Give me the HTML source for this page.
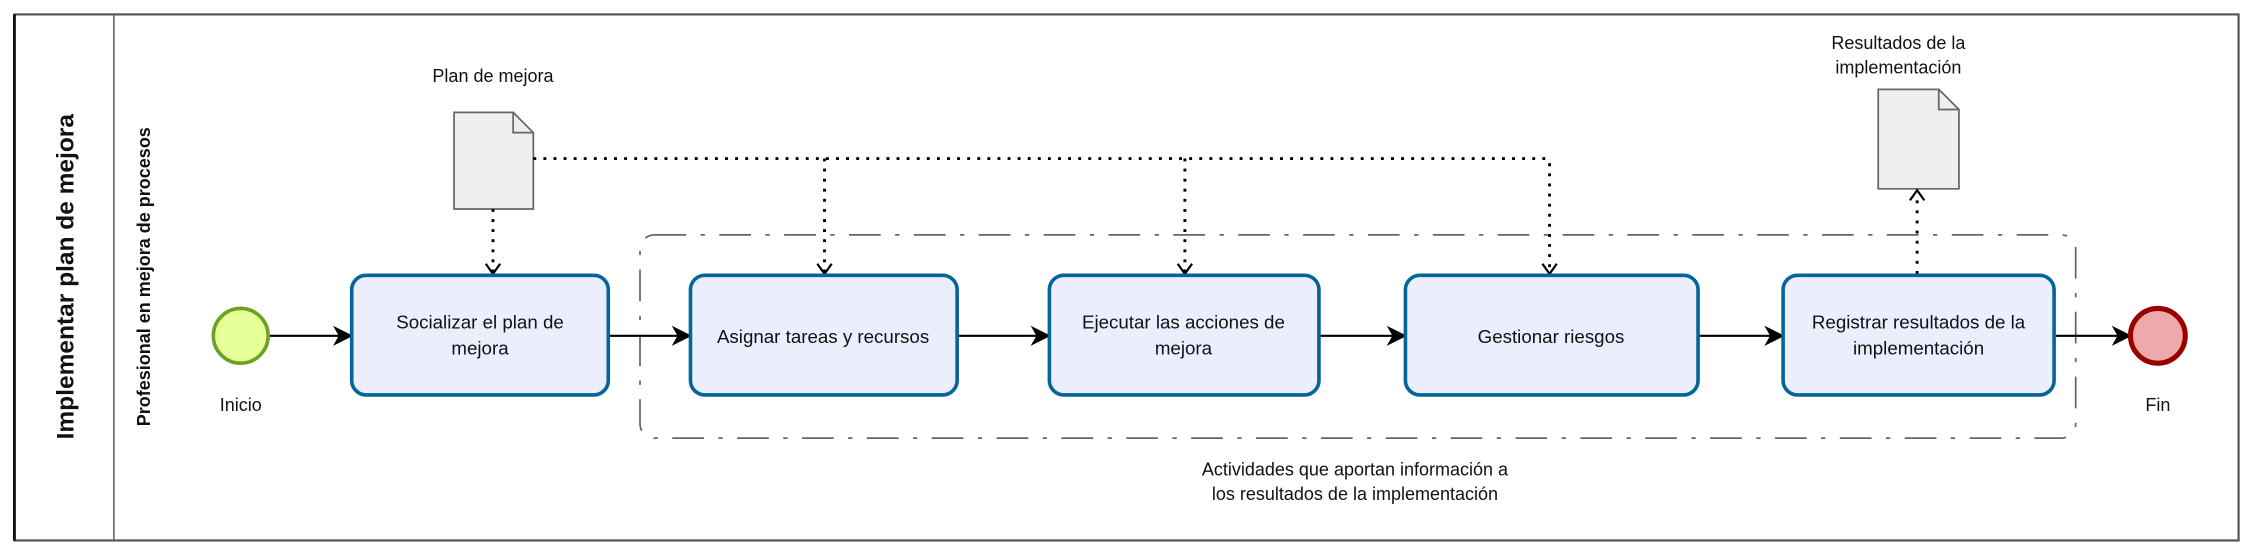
<!DOCTYPE html>
<html><head><meta charset="utf-8"><style>
html,body{margin:0;padding:0;background:#fff;}
svg{display:block;}
text{font-family:"Liberation Sans","DejaVu Sans",sans-serif;fill:#111;}
</style></head><body>
<svg width="2253" height="552" viewBox="0 0 1563 383" preserveAspectRatio="none" xmlns="http://www.w3.org/2000/svg">
<defs>
<marker id="ah" markerWidth="14" markerHeight="14" refX="13" refY="7" orient="auto" markerUnits="userSpaceOnUse"><path d="M0,0 L14,7 L0,14 L4,7 Z" fill="#000"/></marker>
</defs>
<rect x="10" y="10" width="1543" height="365" fill="#fff" stroke="#555" stroke-width="1.5"/>
<line x1="10" y1="10" x2="10" y2="375" stroke="#111" stroke-width="2"/>
<line x1="79" y1="10" x2="79" y2="375" stroke="#555" stroke-width="1"/>
<text transform="translate(51,192) rotate(-90)" text-anchor="middle" font-size="17" font-weight="bold">Implementar plan de mejora</text>
<text transform="translate(104,192) rotate(-90)" text-anchor="middle" font-size="12.5" font-weight="bold">Profesional en mejora de procesos</text>
<!-- group -->
<rect x="444" y="163" width="996" height="141" rx="10" fill="none" stroke="#666" stroke-width="1.2" stroke-dasharray="22,10,3,10"/>
<text x="940" y="330" text-anchor="middle" font-size="12.5">Actividades que aportan información a</text>
<text x="940" y="347" text-anchor="middle" font-size="12.5">los resultados de la implementación</text>
<!-- docs -->
<path d="M315,78 H356 L370,92 V145 H315 Z" fill="#efefef" stroke="#666" stroke-width="1.2"/>
<path d="M356,78 V92 H370" fill="none" stroke="#666" stroke-width="1.2"/>
<text x="342" y="57" text-anchor="middle" font-size="12.5">Plan de mejora</text>
<path d="M1303,62 H1345 L1359,76 V131 H1303 Z" fill="#efefef" stroke="#666" stroke-width="1.2"/>
<path d="M1345,62 V76 H1359" fill="none" stroke="#666" stroke-width="1.2"/>
<text x="1317" y="34" text-anchor="middle" font-size="12.5">Resultados de la</text>
<text x="1317" y="51" text-anchor="middle" font-size="12.5">implementación</text>
<!-- dotted -->
<g fill="none" stroke="#000" stroke-width="2" stroke-dasharray="2,5">
<path d="M370,110 H1072 Q1075,110 1075,114 V189"/>
<path d="M572,110 V189"/>
<path d="M822,110 V189"/>
<path d="M342,145 V189"/>
<path d="M1330,190 V134"/>
</g>
<g fill="none" stroke="#000" stroke-width="1.5">
<path d="M337,183 L342,190 L347,183"/>
<path d="M567,183 L572,190 L577,183"/>
<path d="M817,183 L822,190 L827,183"/>
<path d="M1070,183 L1075,190 L1080,183"/>
<path d="M1325,139 L1330,132 L1335,139"/>
</g>
<!-- flows -->
<g stroke="#000" stroke-width="1.5" fill="none">
<line x1="186" y1="233" x2="244" y2="233" marker-end="url(#ah)"/>
<line x1="422" y1="233" x2="479" y2="233" marker-end="url(#ah)"/>
<line x1="664" y1="233" x2="728" y2="233" marker-end="url(#ah)"/>
<line x1="915" y1="233" x2="975" y2="233" marker-end="url(#ah)"/>
<line x1="1178" y1="233" x2="1237" y2="233" marker-end="url(#ah)"/>
<line x1="1425" y1="233" x2="1478" y2="233" marker-end="url(#ah)"/>
</g>
<circle cx="167" cy="233" r="19" fill="#e6ff99" stroke="#6aa222" stroke-width="2.5"/>
<text x="167" y="285" text-anchor="middle" font-size="12.5">Inicio</text>
<circle cx="1497" cy="233" r="19" fill="#eeaaaa" stroke="#990000" stroke-width="3.5"/>
<text x="1497" y="285" text-anchor="middle" font-size="12.5">Fin</text>
<g fill="#eaeefd" stroke="#05649a" stroke-width="2.5">
<rect x="244" y="191" width="178" height="83" rx="10"/>
<rect x="479" y="191" width="185" height="83" rx="10"/>
<rect x="728" y="191" width="187" height="83" rx="10"/>
<rect x="975" y="191" width="203" height="83" rx="10"/>
<rect x="1237" y="191" width="188" height="83" rx="10"/>
</g>
<g font-size="13" text-anchor="middle">
<text x="333" y="228">Socializar el plan de</text><text x="333" y="246">mejora</text>
<text x="571" y="238">Asignar tareas y recursos</text>
<text x="821" y="228">Ejecutar las acciones de</text><text x="821" y="246">mejora</text>
<text x="1076" y="238">Gestionar riesgos</text>
<text x="1331" y="228">Registrar resultados de la</text><text x="1331" y="246">implementación</text>
</g>
</svg>
</body></html>
